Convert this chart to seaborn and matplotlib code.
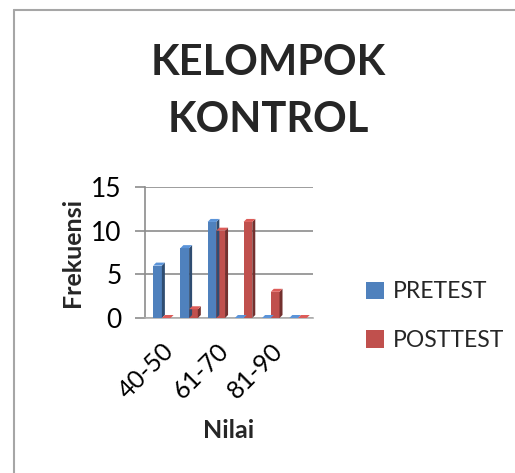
import matplotlib
matplotlib.use("Agg")
import matplotlib.pyplot as plt
import seaborn as sns
import pandas as pd
from matplotlib.lines import Line2D
from matplotlib.patches import Polygon, Patch

categories = ["40-50", "51-60", "61-70", "71-80", "81-90", "91-100"]
shown_labels = ["40-50", "", "61-70", "", "81-90", ""]
pretest = [6, 8, 11, 0, 0, 0]
posttest = [0, 1, 10, 11, 3, 0]
series = ["PRETEST", "POSTTEST"]
colors = ["#4F81BD", "#C0504D"]

df = pd.DataFrame({
    "Nilai": categories * 2,
    "Frekuensi": pretest + posttest,
    "Seri": [series[0]] * len(categories) + [series[1]] * len(categories),
})

sns.set_theme(style="white")
plt.rcParams["font.family"] = ["Lato", "DejaVu Sans"]

W, H = 515, 473
fig = plt.figure(figsize=(W / 100, H / 100), dpi=100)
ax = fig.add_axes([145 / W, 1 - 318 / H, (313 - 145) / W, (318 - 187) / H])

sns.barplot(data=df, x="Nilai", y="Frekuensi", hue="Seri", order=categories,
            hue_order=series, palette=colors, width=0.64, saturation=1,
            ax=ax, legend=False, edgecolor="none", zorder=3)

ax.set_ylim(0, 15)
ax.set_xlim(-0.62, 5.55)
ax.set_yticks([0, 5, 10, 15])
ax.yaxis.grid(True, color="#8C8C8C", linewidth=1.2, zorder=0)
ax.set_axisbelow(True)
for s in ["top", "right"]:
    ax.spines[s].set_visible(False)
ax.spines["left"].set_color("#8C8C8C")
ax.spines["left"].set_linewidth(1.2)
ax.spines["bottom"].set_color("#B0B0B0")
ax.spines["bottom"].set_linewidth(1.2)
ax.tick_params(axis="y", left=True, length=7, width=1.2, color="#8C8C8C",
               labelsize=19, pad=10, labelcolor="black")
ax.tick_params(axis="x", bottom=False, labelsize=18, pad=9, labelcolor="black")
ax.set_xticks(range(len(categories)))
ax.set_xticklabels(shown_labels, rotation=45, ha="right", rotation_mode="anchor")

# simple 3D-like side and top faces
xr = ax.get_xlim()[1] - ax.get_xlim()[0]
px_x = xr / (313 - 145)
px_y = 15 / (318 - 187)
d = 3
for i, bar in enumerate(ax.patches):
    x0, w, h = bar.get_x(), bar.get_width(), bar.get_height()
    if w <= 0:
        continue
    fc = bar.get_facecolor()
    side = tuple(c * 0.6 for c in fc[:3])
    top = tuple(min(1, c * 1.15) for c in fc[:3])
    ax.add_patch(Polygon([(x0 + w, 0), (x0 + w + d * px_x, d * px_y),
                          (x0 + w + d * px_x, h + d * px_y), (x0 + w, h)],
                         closed=True, facecolor=side, edgecolor="none", zorder=3))
    ax.add_patch(Polygon([(x0, h), (x0 + d * px_x, h + d * px_y),
                          (x0 + w + d * px_x, h + d * px_y), (x0 + w, h)],
                         closed=True, facecolor=top, edgecolor="none", zorder=3))

ax.set_ylabel("Frekuensi", fontsize=18, fontweight="bold", labelpad=5)
ax.set_xlabel("Nilai", fontsize=18, fontweight="bold", labelpad=12)

fig.text(268 / W, 1 - 63 / H, "KELOMPOK", ha="center", va="center",
         fontsize=30, fontweight="bold")
fig.text(268 / W, 1 - 120 / H, "KONTROL", ha="center", va="center",
         fontsize=30, fontweight="bold")

handles = [Patch(facecolor=c, edgecolor="none") for c in colors]
fig.legend(handles, series, loc="center left",
           bbox_to_anchor=(345 / W, 1 - 316 / H), frameon=False,
           fontsize=16.5, handlelength=0.8, handleheight=0.8, handletextpad=0.4,
           labelspacing=1.2)

# chart frame
fig.add_artist(Line2D([14 / W, 14 / W], [0, 1 - 10 / H], color="#A6A6A6",
                      linewidth=1.5, transform=fig.transFigure))
fig.add_artist(Line2D([14 / W, 1], [1 - 10 / H, 1 - 10 / H], color="#A6A6A6",
                      linewidth=1.5, transform=fig.transFigure))

fig.savefig("out.png", dpi=100, facecolor="white")
